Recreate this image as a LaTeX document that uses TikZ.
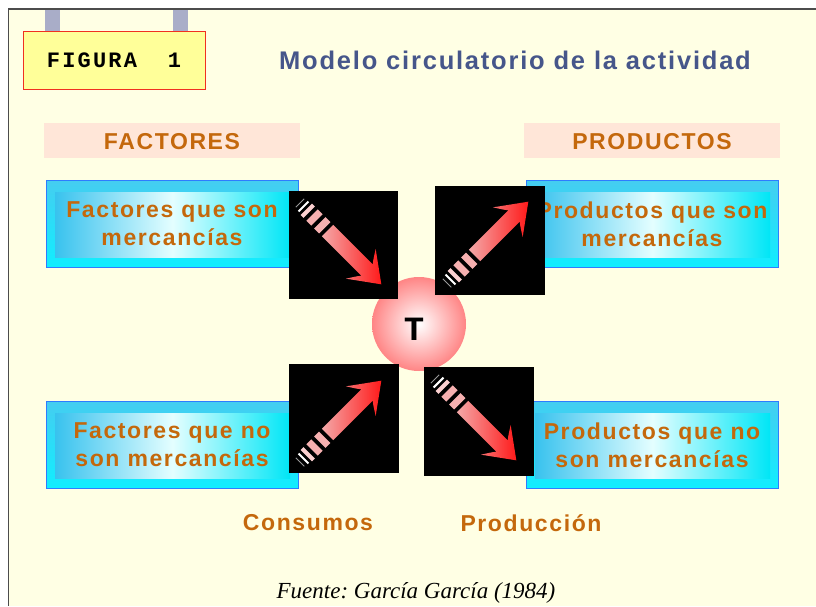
\documentclass[tikz,border=0pt]{standalone}
\usepackage{fontspec}
\setmainfont{Liberation Sans}
\newfontfamily\lsans[LetterSpace=7]{Liberation Sans}
\newfontfamily\lmono[LetterSpace=10]{Liberation Mono}
\newfontfamily\lserif{Liberation Serif}
\frenchspacing
\definecolor{bgy}{HTML}{FFFFE4}
\definecolor{tabc}{HTML}{A9ADC8}
\definecolor{figy}{HTML}{FFFF99}
\definecolor{titc}{HTML}{46568A}
\definecolor{orng}{HTML}{C4680C}
\definecolor{barp}{HTML}{FFE6D8}
\definecolor{cyA}{HTML}{45CDF0}
\definecolor{cyB}{HTML}{10EEFF}
\definecolor{cyC}{HTML}{38C2EE}
\definecolor{cyD}{HTML}{E4FEFF}
\definecolor{cyE}{HTML}{00E6F6}
\definecolor{bluebd}{HTML}{2E7CFF}
\definecolor{pinkA}{HTML}{FBD0D0}
\definecolor{pinkB}{HTML}{F6B0B0}
\definecolor{pinkC}{HTML}{F4A8A8}
\definecolor{arrred}{HTML}{FF1A1A}
\definecolor{ballout}{HTML}{FF8585}
\definecolor{figbd}{HTML}{F03020}
\newcommand\striparrow[3]{%
 \begin{scope}[shift={(#1,#2)},rotate=#3]
   \draw[gray!80, line width=0.8pt] (0,-6) -- (0,6);
   \fill[white] (4,-7) rectangle (6,7);
   \fill[pinkA] (9,-8) rectangle (13,8);
   \fill[pinkB] (17,-8) rectangle (24,8);
   \fill[pinkB] (28,-8) rectangle (35,8);
   \shade[left color=pinkC, right color=arrred] (39,-8) -- (95,-8) .. controls (92,-11) and (90,-15) .. (86,-21) -- (115,0) -- (86,21) .. controls (90,15) and (92,11) .. (95,8) -- (39,8) -- cycle;
 \end{scope}}
\tikzset{
  otxt/.style={text=orng, font=\lsans\bfseries\fontsize{23}{28}\selectfont, align=center, inner sep=0pt},
  htxt/.style={text=orng, font=\lsans\bfseries\fontsize{23}{26}\selectfont, inner sep=0pt},
  blk/.style={fill=black},
}
\begin{document}
\begin{tikzpicture}[x=1pt,y=-1pt]
\useasboundingbox (0,0) rectangle (816,606);
\fill[white] (0,0) rectangle (816,606);
\fill[bgy] (8,9) rectangle (816,606);
\draw[black!70, line width=2pt] (8,9) -- (816,9);
\draw[black!70, line width=1pt] (8,9) -- (8,606);
% tabs and figure label
\fill[tabc] (45,10) rectangle (60,31);
\fill[tabc] (173,10) rectangle (188,31);
\node[draw=figbd, fill=figy, minimum width=182pt, minimum height=58pt, inner sep=0pt,
      font=\lmono\bfseries\fontsize{22}{24}\selectfont] (fig) at (114,60) {FIGURA\ \ 1};
\node[text=titc, font=\lsans\bfseries\fontsize{25.5}{30}\selectfont, inner sep=0pt] (title) at (515,60) {Modelo circulatorio de la actividad};
% header bars
\fill[barp] (44,123) rectangle (300,158);
\fill[barp] (524,123) rectangle (780,158);
\node[htxt] (fac) at (172,142) {FACTORES};
\node[htxt] (pro) at (652,142) {PRODUCTOS};
% cyan boxes
\foreach \bx/\by in {46/180, 526/180, 46/401, 526/401}{
  \shade[top color=cyA, bottom color=cyB] (\bx,\by) rectangle ++(252,87);
  \shade[left color=cyC, right color=cyE, middle color=cyD] (\bx+9,\by+12) rectangle ++(235,65);
  \draw[bluebd, line width=1pt] (\bx,\by) rectangle ++(252,87);
}
\node[otxt] (b1) at (172,224) {Factores que son\\mercancías};
\node[otxt] (b2) at (652,224) {Productos que son\\mercancías};
\node[otxt] (b3) at (172,445) {Factores que no\\son mercancías};
\node[otxt] (b4) at (652,445) {Productos que no\\son mercancías};
% central ball
\shade[inner color=white, outer color=ballout] (419,324) circle (47);
\node[font=\lmono\bfseries\fontsize{34}{34}\selectfont, inner sep=0pt] (T) at (414,329) {T};
% black squares with arrows
\fill[blk] (289,191) rectangle (398,299);
\fill[blk] (435,186) rectangle (545,295);
\fill[blk] (289,364) rectangle (399,473);
\fill[blk] (424,367) rectangle (534,476);
\striparrow{300}{203}{-45}
\striparrow{447}{283}{45}
\striparrow{300}{462}{45}
\striparrow{435}{379}{-45}
% bottom labels
\node[htxt] (cons) at (308,523) {Consumos};
\node[htxt] (prod) at (531,523) {Producción};
\node[font=\lserif\itshape\fontsize{23}{26}\selectfont, inner sep=0pt] (src) at (416,593) {Fuente: García García (1984)};
\end{tikzpicture}
\end{document}
